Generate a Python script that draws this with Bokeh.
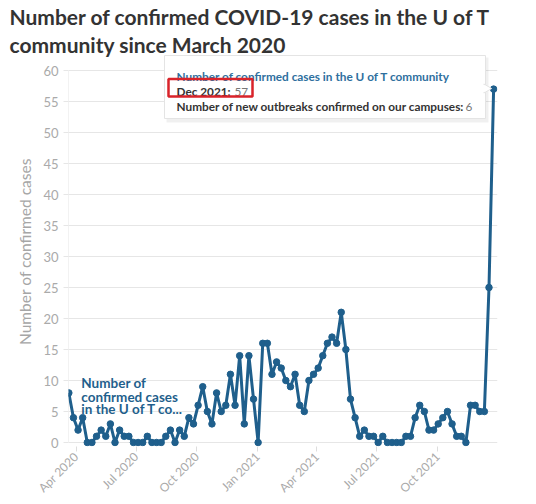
import math
import pandas as pd
from bokeh.plotting import figure
from bokeh.models import (Range1d, MonthsTicker, DatetimeTickFormatter, FixedTicker)
from bokeh.core.properties import value
from bokeh.embed import file_html
from bokeh.resources import INLINE

# ---------------- data ----------------
title_lines = ["Number of confirmed COVID-19 cases in the U of T",
               "community since March 2020"]
y_label = "Number of confirmed cases"
series_name = "Number of confirmed cases in the U of T community"
series_short = ["Number of", "confirmed cases", "in the U of T co..."]
first_week = "2020-03-21"
cases = [8, 4, 2, 4, 0, 0, 1, 2, 1, 3,
         0, 2, 1, 1, 0, 0, 0, 1, 0, 0,
         0, 1, 2, 0, 2, 1, 4, 3, 6, 9,
         5, 3, 8, 5, 6, 11, 6, 14, 3, 14,
         7, 0, 16, 16, 11, 13, 12, 10, 9, 11,
         6, 5, 10, 11, 12, 14, 16, 17, 16, 21,
         15, 7, 4, 1, 2, 1, 1, 0, 1, 0,
         0, 0, 0, 1, 1, 4, 6, 5, 2, 2,
         3, 4, 5, 3, 1, 1, 0, 6, 6, 5,
         5, 25, 57]
y_ticks = [0, 5, 10, 15, 20, 25, 30, 35, 40, 45, 50, 55, 60]
x_tick_months = [1, 4, 7, 10]
tooltip_period = "Dec 2021"
tooltip_outbreak_label = "Number of new outbreaks confirmed on our campuses"
tooltip_outbreaks = 6

dates = pd.date_range(first_week, periods=len(cases), freq="7D")

# ---------------- geometry (canvas == page coords) ----------------
W, H = 536, 504
BL, BR, BT, BB = 68, 39, 56, 58
FW, FH = W - BL - BR, H - BT - BB
PX_DAY = 0.6596
PX_UNIT = 6.2
x0 = pd.Timestamp("2020-03-20 12:00")
x1 = x0 + pd.Timedelta(days=FW / PX_DAY)
zero_px = 442.0  # page y of value 0
frame_top = BT
frame_bot = H - BB
y1 = (zero_px - frame_top) / PX_UNIT
y0 = -(frame_bot - zero_px) / PX_UNIT


def dx(px):
    return x0 + pd.Timedelta(days=(px - BL) / PX_DAY)


def dy(py):
    return (zero_px - py) / PX_UNIT


C = "#1f5f8c"
GRID = "#e6e6e6"
FONT = "Lato"

p = figure(width=W, height=H, x_axis_type="datetime",
           x_range=Range1d(x0, x1), y_range=Range1d(y0, y1),
           output_backend="svg", toolbar_location=None,
           min_border_left=BL, min_border_right=BR,
           min_border_top=BT, min_border_bottom=BB,
           title="\n".join(title_lines))
p.outline_line_color = None
p.background_fill_color = "white"
p.border_fill_color = "white"

p.title.text_font = FONT
p.title.text_font_size = "21px"
p.title.text_font_style = "bold"
p.title.text_color = "#333333"
p.title.align = "left"
p.title.offset = -(BL - 9)
p.title.standoff = 0
p.title.text_line_height = 1.1

p.xgrid.visible = False
p.ygrid.ticker = FixedTicker(ticks=y_ticks)
p.ygrid.grid_line_color = GRID

yax = p.yaxis[0]
yax.ticker = FixedTicker(ticks=y_ticks)
yax.axis_line_color = None
yax.major_tick_line_color = GRID
yax.major_tick_out = 5
yax.major_tick_in = 0
yax.minor_tick_line_color = None
yax.major_label_text_color = "#aaaaaa"
yax.major_label_text_font = FONT
yax.major_label_text_font_size = "13px"
yax.major_label_standoff = 5
yax.axis_label = y_label
yax.axis_label_text_color = "#a6a6a6"
yax.axis_label_text_font = FONT
yax.axis_label_text_font_size = "15.5px"
yax.axis_label_text_font_style = "normal"
yax.axis_label_standoff = 6

xax = p.xaxis[0]
xax.ticker = MonthsTicker(months=[m - 1 for m in x_tick_months])
xax.formatter = DatetimeTickFormatter(months="%b %Y", years="%b %Y")
xax.major_label_orientation = math.pi / 4
xax.axis_line_color = None
xax.major_tick_line_color = "#dddddd"
xax.major_tick_out = 5
xax.major_tick_in = 0
xax.minor_tick_line_color = None
xax.major_label_text_color = "#aaaaaa"
xax.major_label_text_font = FONT
xax.major_label_text_font_size = "12px"
xax.major_label_standoff = 3

# y axis line from first to last tick
p.line(x=[x0, x0], y=[y_ticks[0], y_ticks[-1]], line_color=GRID, line_width=1)

# series
p.line(dates, cases, line_color=C, line_width=3)
p.scatter(dates, cases, size=6.5, color=C)

# series label (anchored on the first point)
p.text(x=[dates[0]] * 3, y=[cases[0]] * 3, text=series_short,
       x_offset=12.5, y_offset=[-9.5, 3.8, 16.2],
       text_font=value(FONT), text_font_style="bold", text_font_size="13.5px",
       text_color=C, text_baseline="alphabetic")

# tooltip
OV = "overlay"
p.quad(left=[dx(166)], right=[dx(488)], top=[dy(57)], bottom=[dy(122)],
       fill_color="black", fill_alpha=0.06, line_color=None, level=OV)
p.quad(left=[dx(164)], right=[dx(485)], top=[dy(55)], bottom=[dy(118)],
       fill_color="white", fill_alpha=1, line_color="#e4e4e4", line_width=1, level=OV)
p.scatter(x=[dx(486)], y=[dy(88)], marker="triangle", angle=-math.pi / 2, size=9,
          fill_color="white", line_color="#e4e4e4", line_width=1, level=OV)
p.scatter(x=[dx(484.5)], y=[dy(88)], marker="triangle", angle=-math.pi / 2, size=9,
          fill_color="white", line_color=None, level=OV)
tt = dict(text_font=value(FONT), text_font_size="11.8px", text_baseline="alphabetic",
          level=OV)
p.text(x=[dx(176)], y=[dy(75.5)], text=[series_name], text_color="#2e6f9e",
       text_font_style="bold", **tt)
p.text(x=[dx(176), dx(176)], y=[dy(91), dy(106)],
       text=[f"{tooltip_period}:", f"{tooltip_outbreak_label}:"],
       text_color="#333333", text_font_style="bold", **tt)
p.text(x=[dx(234), dx(465)], y=[dy(91), dy(106)],
       text=[f"{cases[-1]}", f"{tooltip_outbreaks}"],
       text_color="#777777", text_font_style="normal", **tt)
p.quad(left=[dx(168)], right=[dx(252)], top=[dy(78.5)], bottom=[dy(96)],
       fill_alpha=0, line_color="#d9232a", line_width=2.5, level=OV)

open("out.html", "w").write(file_html(p, INLINE))
